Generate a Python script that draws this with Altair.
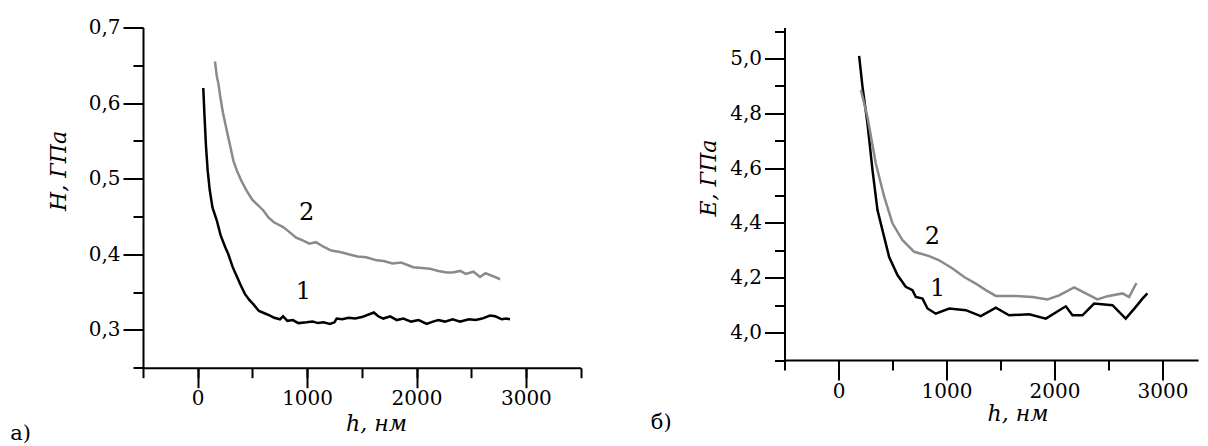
import altair as alt
import pandas as pd

FONT = "DejaVu Serif"

# ---- panel a): H vs h ----
h_a1 = [51, 60, 75, 91, 110, 135, 174, 210, 250, 280, 320, 360, 387, 430, 470, 508, 560, 610, 661, 700,
        752, 780, 820, 870, 920, 996, 1050, 1100, 1150, 1209, 1250, 1270, 1320, 1380, 1440, 1500, 1575,
        1610, 1650, 1697, 1760, 1820, 1880, 1950, 2020, 2093, 2150, 2200, 2260, 2330, 2400, 2428, 2480,
        2540, 2600, 2672, 2720, 2780, 2820, 2855]
H_a1 = [0.620, 0.590, 0.545, 0.511, 0.485, 0.462, 0.445, 0.425, 0.410, 0.400, 0.383, 0.370, 0.361, 0.348,
        0.340, 0.334, 0.325, 0.322, 0.319, 0.316, 0.314, 0.318, 0.312, 0.313, 0.309, 0.310, 0.311, 0.309,
        0.310, 0.308, 0.310, 0.315, 0.314, 0.316, 0.315, 0.317, 0.321, 0.323, 0.318, 0.315, 0.318, 0.313,
        0.315, 0.311, 0.313, 0.308, 0.311, 0.313, 0.311, 0.314, 0.311, 0.312, 0.314, 0.313, 0.315, 0.319,
        0.318, 0.314, 0.315, 0.314]
h_a2 = [158, 175, 189, 210, 230, 265, 290, 326, 360, 400, 448, 500, 550, 600, 650, 700, 782, 850, 900, 965,
        1020, 1080, 1150, 1220, 1300, 1380, 1460, 1540, 1636, 1700, 1780, 1860, 1970, 2050, 2120, 2200,
        2276, 2330, 2400, 2450, 2520, 2581, 2630, 2700, 2764]
H_a2 = [0.655, 0.635, 0.626, 0.605, 0.588, 0.564, 0.548, 0.524, 0.510, 0.497, 0.484, 0.472, 0.465, 0.458,
        0.448, 0.442, 0.436, 0.428, 0.422, 0.418, 0.414, 0.416, 0.410, 0.405, 0.403, 0.400, 0.397, 0.396,
        0.392, 0.391, 0.388, 0.389, 0.383, 0.382, 0.381, 0.378, 0.376, 0.376, 0.378, 0.374, 0.377, 0.370,
        0.375, 0.371, 0.367]

# ---- panel б): E vs h ----
h_b1 = [191, 222, 268, 315, 361, 407, 469, 546, 623, 685, 716, 778, 824, 901, 1025, 1179, 1318, 1457, 1580,
        1766, 1920, 2105, 2167, 2259, 2367, 2537, 2660, 2753, 2815, 2861]
E_b1 = [5.010, 4.898, 4.764, 4.593, 4.447, 4.374, 4.276, 4.210, 4.167, 4.155, 4.130, 4.124, 4.088, 4.069,
        4.088, 4.082, 4.060, 4.091, 4.063, 4.067, 4.051, 4.096, 4.063, 4.063, 4.106, 4.100, 4.051, 4.094,
        4.124, 4.143]
h_b2 = [207, 268, 345, 423, 500, 593, 701, 840, 932, 1056, 1164, 1271, 1364, 1457, 1642, 1796, 1935, 2043,
        2182, 2290, 2398, 2491, 2630, 2691, 2759]
E_b2 = [4.886, 4.788, 4.618, 4.496, 4.399, 4.337, 4.295, 4.279, 4.264, 4.234, 4.203, 4.179, 4.155, 4.134,
        4.134, 4.130, 4.121, 4.136, 4.165, 4.143, 4.121, 4.133, 4.143, 4.130, 4.181]

curve_names = ["1", "2"]
curve_colors = ["#000000", "#8a8a8a"]

ann_a_h = [965, 996]
ann_a_v = [0.350, 0.454]
ann_b_h = [917, 870]
ann_b_v = [4.160, 4.350]

x_minor = list(range(-500, 3501, 500))
x_major = [0, 1000, 2000, 3000]
ya_minor = [round(0.25 + 0.05 * i, 2) for i in range(10)]
ya_major = [0.3, 0.4, 0.5, 0.6, 0.7]
yb_minor = [round(3.9 + 0.1 * i, 1) for i in range(13)]
yb_major = [4.0, 4.2, 4.4, 4.6, 4.8, 5.0]


def frame(hs, vs, name):
    return pd.DataFrame({"h": hs, "v": vs, "s": name})


df_a = pd.concat([frame(h_a1, H_a1, "1"), frame(h_a2, H_a2, "2")])
df_b = pd.concat([frame(h_b1, E_b1, "1"), frame(h_b2, E_b2, "2")])
ann_a = pd.DataFrame({"h": ann_a_h, "v": ann_a_v, "t": curve_names})
ann_b = pd.DataFrame({"h": ann_b_h, "v": ann_b_v, "t": curve_names})

color = alt.Color("s:N", scale=alt.Scale(domain=curve_names, range=curve_colors), legend=None)

TITLE = dict(titleFont=FONT, titleFontSize=22, titleFontStyle="italic", titleFontWeight="normal",
             titleColor="black")
LABEL = dict(labelFont=FONT, labelFontSize=20, labelColor="black")


def minor_x(tx, ty):
    return alt.Axis(orient="bottom", values=x_minor, tickSize=10, labels=False,
                    title="h, нм", titleX=tx, titleY=ty, titleAlign="center", titleBaseline="middle",
                    **TITLE)


def major_x():
    return alt.Axis(orient="bottom", values=x_major, tickSize=20, domain=False, title=None,
                    labelExpr="format(datum.value, 'd')", labelOverlap=False, labelPadding=1, **LABEL)


def minor_y(ticks, title, tx, ty):
    return alt.Axis(orient="left", values=ticks, tickSize=10, labels=False,
                    title=title, titleX=tx, titleY=ty, titleAlign="center",
                    titleBaseline="middle", titleAngle=-90, **TITLE)


def major_y(ticks):
    return alt.Axis(orient="left", values=ticks, tickSize=20, domain=False, title=None,
                    labelExpr="replace(format(datum.value, '.1f'), '.', ',')",
                    labelOverlap=False, labelPadding=3, **LABEL)


def panel(df, ann, xdom, ydom, ymin_ticks, ymaj_ticks, ytitle, ytx, yty, xtx, xty, tag, tag_x, tag_y, w, h):
    xs = alt.Scale(domain=xdom, nice=False, zero=False)
    ys = alt.Scale(domain=ydom, nice=False, zero=False)
    lines = alt.Chart(df).mark_line(strokeWidth=2.5, clip=True).encode(
        x=alt.X("h:Q", scale=xs, axis=minor_x(xtx, xty)),
        y=alt.Y("v:Q", scale=ys, axis=minor_y(ymin_ticks, ytitle, ytx, yty)),
        color=color)
    nums = alt.Chart(ann).mark_text(font=FONT, fontSize=24, color="black").encode(
        x=alt.X("h:Q", scale=xs, axis=major_x()),
        y=alt.Y("v:Q", scale=ys, axis=major_y(ymaj_ticks)),
        text="t:N")
    lab = alt.Chart(pd.DataFrame({"t": [tag]})).mark_text(
        font=FONT, fontSize=21, color="black", align="left", baseline="middle").encode(
        x=alt.value(tag_x), y=alt.value(tag_y), text="t:N")
    return alt.layer(lines, nums, lab).resolve_axis(x="independent", y="independent").properties(
        width=w, height=h)


left = panel(df_a, ann_a, [-500, 3500], [0.25, 0.7], ya_minor, ya_major, "H, ГПа", -85, 143,
             233, 56, "а)", -132.7, 406.5, 437.6, 340.2)
right = panel(df_b, ann_b, [-500, 3330], [3.9, 5.1135], yb_minor, yb_major, "E, ГПа", -76, 150,
              233, 53, "б)", -133.7, 395.5, 413.6, 332.5)

chart = alt.hconcat(left, right, spacing=203.5, bounds="flush").properties(
    padding={"left": 2, "top": 9.5, "right": 0, "bottom": 0}
).configure_view(stroke=None).configure_axis(
    grid=False,
    domainColor="black", domainWidth=2,
    tickColor="black", tickWidth=2,
)

chart.save("out.html", embed_options={"renderer": "svg", "actions": False})
